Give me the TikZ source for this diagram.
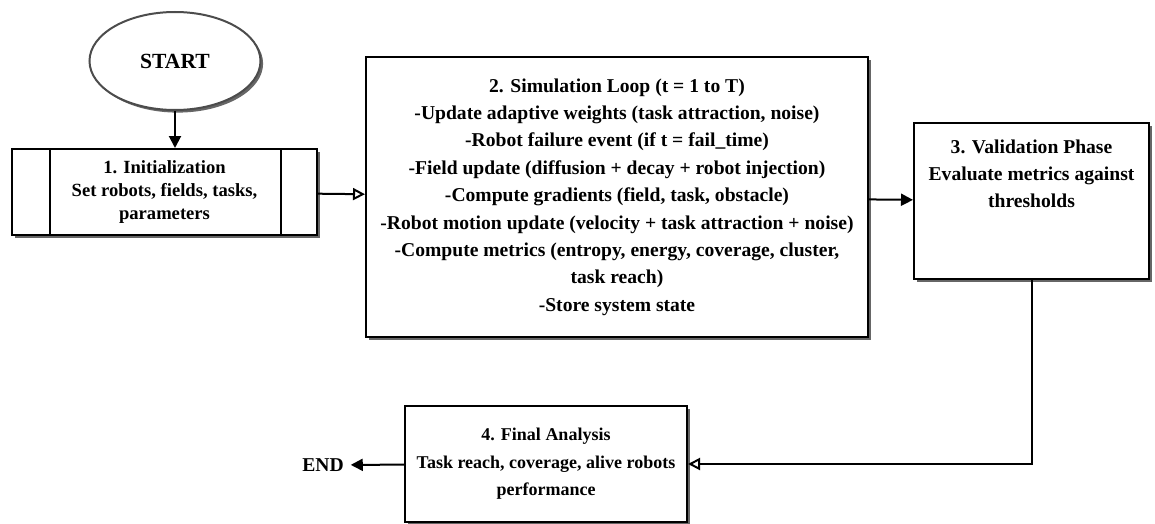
\documentclass[tikz,border=0pt]{standalone}
\usepackage{fontspec}
\setmainfont{Liberation Serif}
\usetikzlibrary{shapes.geometric,arrows.meta,shadows}

\begin{document}
\begin{tikzpicture}[x=0.5pt,y=-0.5pt,
  font=\bfseries\fontsize{9.8}{13.7}\selectfont,
  box/.style={draw, line width=1pt, fill=white, align=center, inner sep=0pt,
    drop shadow={shadow xshift=1.3pt, shadow yshift=-1.3pt, fill=black!60, opacity=1}},
  fwd/.style={-{Triangle[length=6pt,width=6pt]}, line width=1pt},
  back/.style={-{Triangle[open,length=6pt,width=6pt]}, line width=1pt}]

\useasboundingbox (0,0) rectangle (1155,524);

\node[box, ellipse, draw=black!70, minimum width=85.5pt, minimum height=49pt,
  font=\bfseries\fontsize{10.8}{13}\selectfont] (start) at (175,61) {START};
\node[box, minimum width=152.5pt, minimum height=43pt,
  font=\bfseries\fontsize{9.3}{11.5}\selectfont] (init) at (164.5,192)
  {1. Initialization\\Set robots, fields, tasks,\\parameters};
\node[box, minimum width=251pt, minimum height=140pt] (loop) at (617,197)
  {2. Simulation Loop (t = 1 to T)\\
   -Update adaptive weights (task attraction, noise)\\
   -Robot failure event (if t = fail\_time)\\
   -Field update (diffusion + decay + robot injection)\\
   -Compute gradients (field, task, obstacle)\\
   -Robot motion update (velocity + task attraction + noise)\\
   -Compute metrics (entropy, energy, coverage, cluster,\\
   task reach)\\
   -Store system state};
\node[box, minimum width=117.5pt, minimum height=78pt] (valid) at (1031.5,201)
  {3. Validation Phase\\Evaluate metrics against\\thresholds\\\mbox{}\\\mbox{}};
\node[box, minimum width=141pt, minimum height=58pt,
  font=\bfseries\fontsize{9}{13.7}\selectfont] (final) at (546,464)
  {4. Final Analysis\\Task reach, coverage, alive robots\\performance};
\node (finish) at (323,465) {END};

% side bars of the initialization box
\draw[line width=1pt] ([xshift=19.5pt]init.north west) -- ([xshift=19.5pt]init.south west);
\draw[line width=1pt] ([xshift=-18.5pt]init.north east) -- ([xshift=-18.5pt]init.south east);

\draw[fwd] (start.south) -- (start.south |- init.north);
\draw[back] (init) -- (loop);
\draw[fwd] (loop) -- (valid);
\draw[back] (valid.south) |- (final.east);
\draw[fwd] (final) -- (finish);

\end{tikzpicture}
\end{document}
